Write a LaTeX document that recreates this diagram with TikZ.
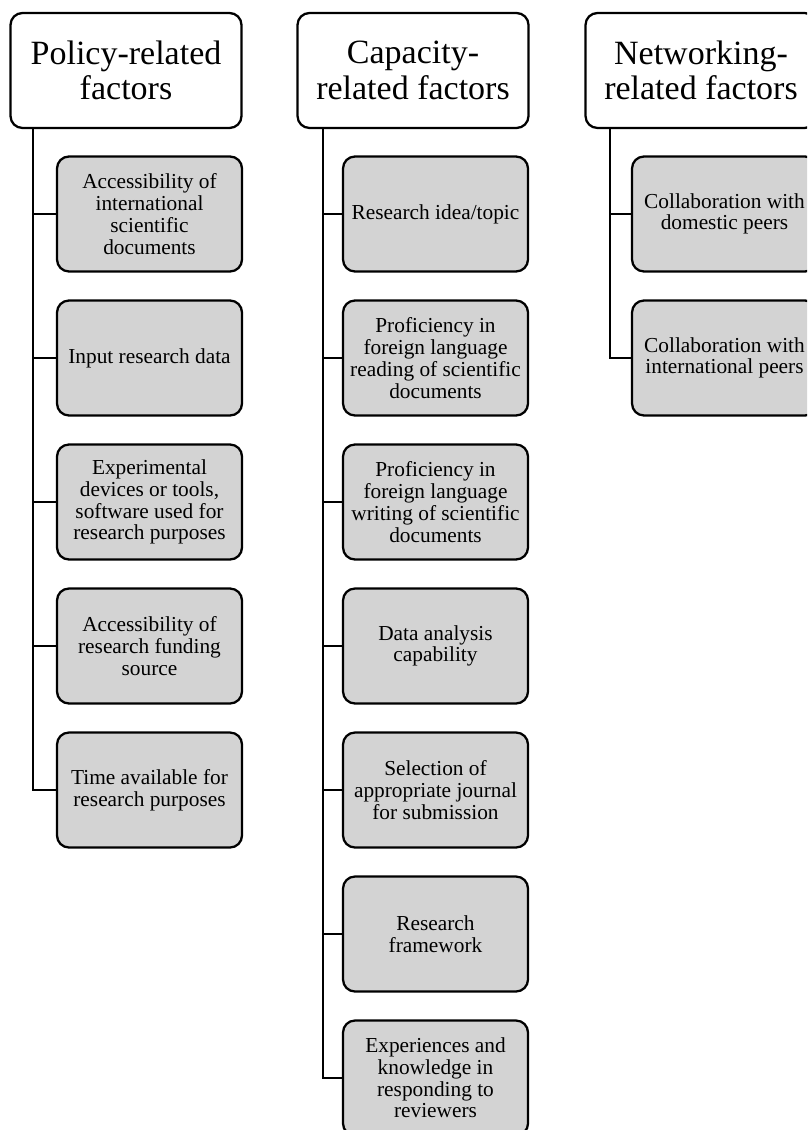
\documentclass[tikz,border=0pt]{standalone}
\usepackage{fontspec}
\setmainfont{Liberation Serif}
\usetikzlibrary{positioning}

\begin{document}
\begin{tikzpicture}[x=0.75pt,y=-0.75pt]
  % one unit = one pixel of the 807 x 1130 page, y pointing down
  \def\u{0.75pt}  % pixel size
  \def\dy{144}    % distance between two factor boxes
  \tikzset{
    head/.style   = {draw, line width=1.7pt, rounded corners=9pt, fill=white,
                     minimum width={231*\u}, minimum height={115*\u}, inner sep=0pt,
                     align=center, font=\fontsize{25.5pt}{26.5pt}\selectfont},
    factor/.style = {draw, line width=1.7pt, rounded corners=9pt, fill=boxgray,
                     minimum width={185*\u}, minimum height={115*\u}, inner sep=0pt,
                     align=center, font=\fontsize{16pt}{16.3pt}\selectfont},
    link/.style   = {line width=2pt}
  }
  \definecolor{boxgray}{RGB}{211,211,211}

  \useasboundingbox (0,0) rectangle (807,1130);
  \clip (0,0) rectangle (807,1130);

  % --- Column headings ---
  \node[head] (pol) at (126,70.5) {Policy-related\\factors};
  \node[head] (cap) at (413,70.5) {Capacity-\\related factors};
  \node[head] (net) at (701,70.5) {Networking-\\related factors};

  % --- Policy-related factors ---
  \foreach \t [count=\i from 0] in {
      {Accessibility of\\international\\scientific\\documents},
      {Input research data},
      {Experimental\\devices or tools,\\software used for\\research purposes},
      {Accessibility of\\research funding\\source},
      {Time available for\\research purposes}} {
    \node[factor] (p\i) at (149.5,{214+\i*\dy}) {\t};
  }

  % --- Capacity-related factors ---
  \foreach \t [count=\i from 0] in {
      {Research idea/topic},
      {Proficiency in\\foreign language\\reading of scientific\\documents},
      {Proficiency in\\foreign language\\writing of scientific\\documents},
      {Data analysis\\capability},
      {Selection of\\appropriate journal\\for submission},
      {Research\\framework},
      {Experiences and\\knowledge in\\responding to\\reviewers}} {
    \node[factor] (c\i) at (435.5,{214+\i*\dy}) {\t};
  }

  % --- Networking-related factors ---
  \node[factor] (n0) at (724.5,214) {Collaboration with\\domestic peers};
  \node[factor] (n1) at (724.5,{214+\dy}) {Collaboration with\\international peers};

  % --- Tree lines ---
  \foreach \i in {0,...,4} { \draw[link] ([xshift={-93*\u}]pol.south) |- (p\i.west); }
  \foreach \i in {0,...,6} { \draw[link] ([xshift={-90*\u}]cap.south) |- (c\i.west); }
  \foreach \i in {0,1} { \draw[link] ([xshift={-91*\u}]net.south) |- (n\i.west); }
\end{tikzpicture}
\end{document}
